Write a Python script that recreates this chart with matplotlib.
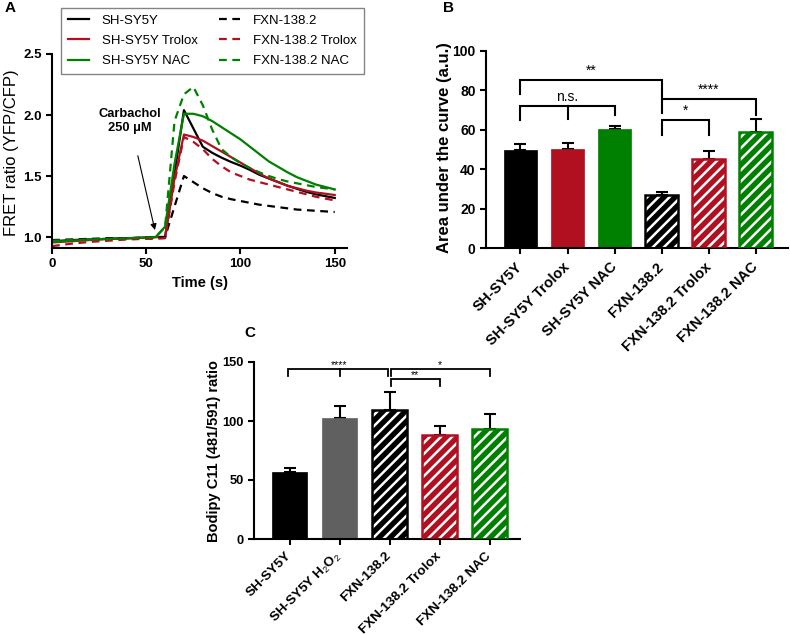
import numpy as np
import matplotlib
matplotlib.use("Agg")
import matplotlib.pyplot as plt

plt.rcParams['font.family'] = ['Liberation Sans', 'DejaVu Sans']
plt.rcParams['mathtext.fontset'] = 'custom'
plt.rcParams['mathtext.rm'] = 'Liberation Sans'
plt.rcParams['mathtext.it'] = 'Liberation Sans'
plt.rcParams['hatch.linewidth'] = 1.8

RED = '#b0101f'
GREEN = '#008000'
GRAY = '#606060'

# ---- panel A: FRET traces ----
time_s = [0, 10, 20, 30, 40, 50, 55, 60, 65, 70, 75, 80, 85, 90, 95, 100,
          105, 110, 115, 120, 125, 130, 135, 140, 145, 150]
sh = [0.965, 0.975, 0.98, 0.985, 0.99, 0.995, 1.0, 1.0, 1.52, 2.04, 1.89, 1.74, 1.69,
      1.65, 1.615, 1.585, 1.55, 1.51, 1.48, 1.45, 1.42, 1.395, 1.37, 1.35, 1.335, 1.32]
sh_trolox = [0.955, 0.965, 0.975, 0.985, 0.99, 0.995, 1.0, 1.0, 1.48, 1.84, 1.82, 1.79, 1.745,
             1.70, 1.655, 1.61, 1.565, 1.52, 1.48, 1.45, 1.42, 1.40, 1.38, 1.365, 1.355, 1.344]
sh_nac = [0.96, 0.97, 0.98, 0.985, 0.99, 0.995, 1.0, 1.085, 1.6, 2.01, 2.01, 1.99, 1.95,
          1.90, 1.85, 1.80, 1.74, 1.68, 1.62, 1.575, 1.53, 1.49, 1.46, 1.43, 1.41, 1.39]
fxn = [0.975, 0.98, 0.985, 0.99, 0.99, 0.995, 0.995, 1.0, 1.25, 1.5, 1.45, 1.40, 1.36,
       1.33, 1.31, 1.295, 1.28, 1.265, 1.255, 1.245, 1.235, 1.225, 1.22, 1.215, 1.21, 1.205]
fxn_trolox = [0.925, 0.945, 0.96, 0.97, 0.98, 0.985, 0.985, 0.99, 1.45, 1.82, 1.78, 1.72, 1.64,
              1.58, 1.53, 1.50, 1.47, 1.45, 1.43, 1.41, 1.39, 1.37, 1.35, 1.33, 1.315, 1.30]
fxn_nac = [0.97, 0.975, 0.98, 0.985, 0.99, 0.995, 1.0, 1.08, 1.95, 2.17, 2.23, 2.08, 1.88,
           1.72, 1.655, 1.605, 1.565, 1.53, 1.5, 1.475, 1.455, 1.44, 1.425, 1.41, 1.40, 1.39]

# ---- panel B: area under the curve ----
auc_labels = ['SH-SY5Y', 'SH-SY5Y Trolox', 'SH-SY5Y NAC',
              'FXN-138.2', 'FXN-138.2 Trolox', 'FXN-138.2 NAC']
auc_mean = [49.5, 50.3, 60.3, 26.8, 45.3, 59.0]
auc_err = [3.5, 3.2, 1.7, 1.5, 4.0, 6.7]

# ---- panel C: Bodipy C11 ----
bod_labels = ['SH-SY5Y', 'SH-SY5Y H$_2$O$_2$', 'FXN-138.2',
              'FXN-138.2 Trolox', 'FXN-138.2 NAC']
bod_mean = [56.8, 102.3, 109.3, 88.4, 93.0]
bod_err = [3.0, 10.1, 15.0, 7.4, 13.0]

fig = plt.figure(figsize=(7.9, 6.35), dpi=100)


def style_axes(ax, size, xsize=None):
    for s in ['top', 'right']:
        ax.spines[s].set_visible(False)
    for s in ['left', 'bottom']:
        ax.spines[s].set_linewidth(1.5)
    ax.tick_params(width=1.5, length=4, labelsize=size)
    if xsize:
        ax.tick_params(axis='x', labelsize=xsize)
    for t in ax.get_yticklabels() + ax.get_xticklabels():
        t.set_fontweight('bold')


def bars(ax, means, errs, colors, hatched):
    x = np.arange(len(means))
    ax.errorbar(x, means, yerr=[np.zeros(len(means)), errs], fmt='none',
                ecolor='black', elinewidth=1.5, capsize=4.5, capthick=1.5, zorder=1)
    for i, (m, c, h) in enumerate(zip(means, colors, hatched)):
        if h:
            ax.bar(i, m, width=0.7, color=c, edgecolor='white', hatch='///', linewidth=0, zorder=2)
            ax.bar(i, m, width=0.7, fill=False, edgecolor=c, linewidth=1.8, zorder=3)
        else:
            ax.bar(i, m, width=0.7, color=c, edgecolor=c, linewidth=0.5, zorder=2)
    return x


def bracket(ax, x0, x1, y, legs, mids=(), lw=1.5):
    ax.plot([x0, x0, x1, x1], [legs[0], y, y, legs[1]], color='black', lw=lw,
            solid_joinstyle='miter', zorder=4, clip_on=False)
    for xm, ym in mids:
        ax.plot([xm, xm], [y, ym], color='black', lw=lw, zorder=4, clip_on=False)


# Panel A
axA = fig.add_axes([52 / 790, 1 - 248 / 635, 295 / 790, 194 / 635])
axA.plot(time_s, sh, color='black', lw=1.6, label='SH-SY5Y')
axA.plot(time_s, sh_trolox, color=RED, lw=1.6, label='SH-SY5Y Trolox')
axA.plot(time_s, sh_nac, color=GREEN, lw=1.6, label='SH-SY5Y NAC')
axA.plot(time_s, fxn, color='black', lw=1.6, ls=(0, (3.5, 2.5)), label='FXN-138.2')
axA.plot(time_s, fxn_trolox, color=RED, lw=1.6, ls=(0, (3.5, 2.5)), label='FXN-138.2 Trolox')
axA.plot(time_s, fxn_nac, color=GREEN, lw=1.6, ls=(0, (3.5, 2.5)), label='FXN-138.2 NAC')
axA.set_xlim(0, 156.5)
axA.set_ylim(0.91, 2.5)
axA.set_xticks([0, 50, 100, 150])
axA.set_yticks([1.0, 1.5, 2.0, 2.5])
axA.set_xlabel('Time (s)', fontsize=10.5, fontweight='bold', labelpad=4)
axA.set_ylabel('FRET ratio (YFP/CFP)', fontsize=12)
axA.yaxis.set_label_coords(-0.113, 0.49)
style_axes(axA, 9.5)
axA.annotate('Carbachol\n250 \u03bcM', xy=(54.6, 1.057), xytext=(41.3, 1.95),
             ha='center', va='center', fontsize=9.3, fontweight='bold', linespacing=1.2,
             arrowprops=dict(arrowstyle='-|>', color='black', lw=0.8, mutation_scale=9,
                             shrinkA=14, shrinkB=0))
h, l = axA.get_legend_handles_labels()
fig.legend(h, l, loc='upper left', bbox_to_anchor=(61 / 790, 1 - 8 / 635), ncol=2,
           fontsize=9.5, frameon=True, fancybox=False, edgecolor='#666666',
           handlelength=1.6, handletextpad=1.0, columnspacing=1.6, labelspacing=0.6,
           borderpad=0.5, borderaxespad=0)

# Panel B
axB = fig.add_axes([486 / 790, 1 - 248 / 635, 302 / 790, 197 / 635])
xB = bars(axB, auc_mean, auc_err, ['black', RED, GREEN, 'black', RED, GREEN],
          [False, False, False, True, True, True])
axB.set_xlim(-0.73, 5.68)
axB.set_ylim(0, 100)
axB.set_yticks([0, 20, 40, 60, 80, 100])
axB.set_xticks(xB)
axB.set_xticklabels(auc_labels, rotation=45, ha='right', va='center', rotation_mode='anchor')
axB.tick_params(axis='x', pad=8)
axB.set_ylabel('Area under the curve (a.u.)', fontsize=12, fontweight='bold')
axB.yaxis.set_label_coords(-0.113, 0.51)
style_axes(axB, 10, xsize=10.5)
bracket(axB, 0, 3, 85.3, (78.0, 75.8))
bracket(axB, 0, 2, 72.1, (65.0, 67.5), mids=[(1, 65.5)])
bracket(axB, 3, 5, 75.8, (68.4, 67.5))
bracket(axB, 3, 4, 65.0, (57.4, 57.4))
axB.text(1.5, 86.5, '**', ha='center', va='bottom', fontsize=10)
axB.text(1.0, 73.2, 'n.s.', ha='center', va='bottom', fontsize=10)
axB.text(4.0, 76.8, '****', ha='center', va='bottom', fontsize=10)
axB.text(3.5, 66.0, '*', ha='center', va='bottom', fontsize=10)

# Panel C
axC = fig.add_axes([254 / 790, 1 - 539 / 635, 266 / 790, 177 / 635])
xC = bars(axC, bod_mean, bod_err, ['black', GRAY, 'black', RED, GREEN],
          [False, False, True, True, True])
axC.set_xlim(-0.71, 4.61)
axC.set_ylim(0, 150)
axC.set_yticks([0, 50, 100, 150])
axC.set_xticks(xC)
axC.set_xticklabels(bod_labels, rotation=45, ha='right', va='center', rotation_mode='anchor')
axC.tick_params(axis='x', pad=7)
axC.set_ylabel('Bodipy C11 (481/591) ratio', fontsize=10.5, fontweight='bold')
axC.yaxis.set_label_coords(-0.124, 0.497)
style_axes(axC, 9.3, xsize=9.7)
bracket(axC, -0.03, 1.97, 143.8, (138.0, 138.0), mids=[(1, 138.0)], lw=1.3)
bracket(axC, 2.03, 4.0, 143.8, (138.0, 138.0), lw=1.3)
bracket(axC, 2.03, 3.0, 135.3, (129.7, 129.7), lw=1.3)
axC.text(1.0, 143.0, '****', ha='center', va='bottom', fontsize=7.5)
axC.text(3.0, 143.0, '*', ha='center', va='bottom', fontsize=7.5)
axC.text(2.5, 134.5, '**', ha='center', va='bottom', fontsize=7.5)

fig.text(10 / 790, 1 - 8 / 635, 'A', fontsize=11, fontweight='bold', ha='center', va='center')
fig.text(448 / 790, 1 - 8 / 635, 'B', fontsize=11, fontweight='bold', ha='center', va='center')
fig.text(250 / 790, 1 - 333 / 635, 'C', fontsize=11, fontweight='bold', ha='center', va='center')

fig.savefig('out.png', dpi=100)
